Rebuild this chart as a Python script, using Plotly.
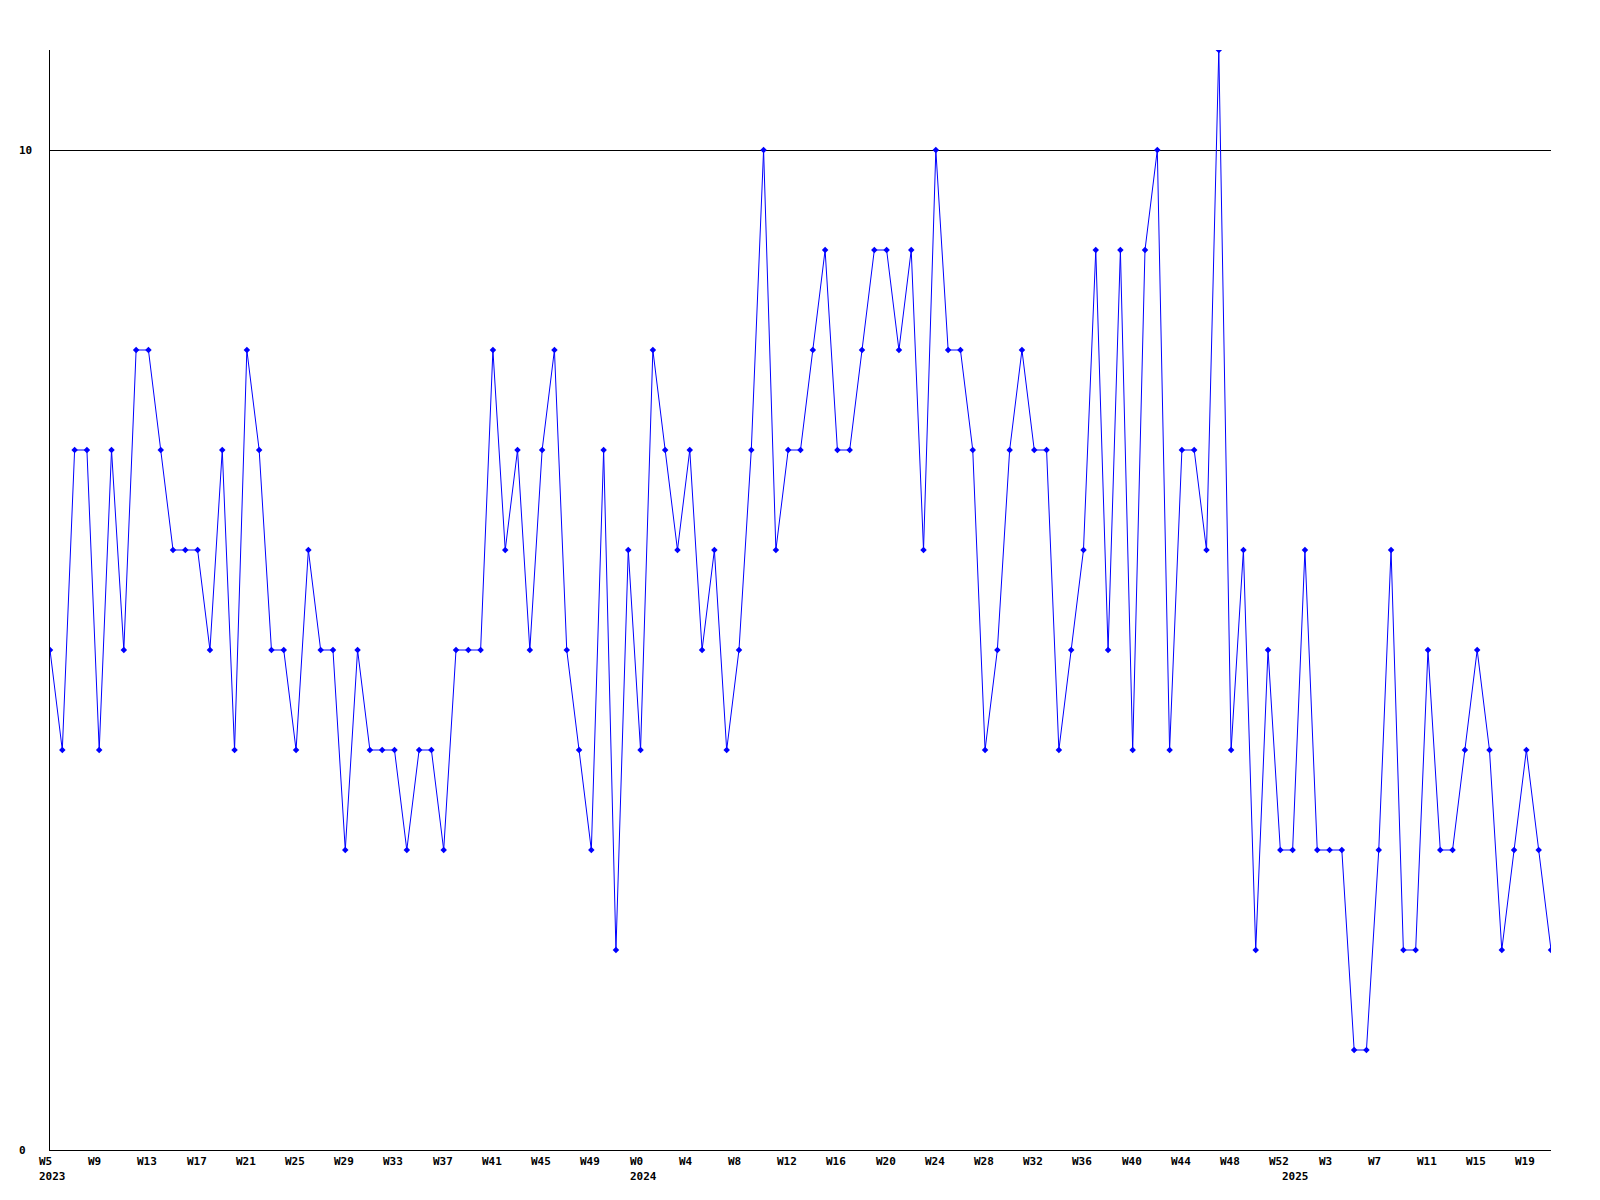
import plotly.graph_objects as go

# Weekly values (one point per week, W5 2023 .. W21 2025)
values = [
    5, 4, 7, 7, 4, 7, 5, 8, 8, 7, 6, 6, 6, 5, 7, 4, 8, 7, 5, 5,
    4, 6, 5, 5, 3, 5, 4, 4, 4, 3, 4, 4, 3, 5, 5, 5, 8, 6, 7, 5,
    7, 8, 5, 4, 3, 7, 2, 6, 4, 8, 7, 6, 7, 5, 6, 4, 5, 7, 10, 6,
    7, 7, 8, 9, 7, 7, 8, 9, 9, 8, 9, 6, 10, 8, 8, 7, 4, 5, 7, 8,
    7, 7, 4, 5, 6, 9, 5, 9, 4, 9, 10, 4, 7, 7, 6, 11, 4, 6, 2, 5,
    3, 3, 6, 3, 3, 3, 1, 1, 3, 6, 2, 2, 5, 3, 3, 4, 5, 4, 2, 3,
    4, 3, 2,
]

# Tick labels shown every 4th week
tick_labels = ["W5", "W9", "W13", "W17", "W21", "W25", "W29", "W33", "W37",
               "W41", "W45", "W49", "W0", "W4", "W8", "W12", "W16", "W20",
               "W24", "W28", "W32", "W36", "W40", "W44", "W48", "W52", "W3",
               "W7", "W11", "W15", "W19"]
tick_step = 4

# Year labels and the week index at which each year begins
year_labels = ["2023", "2024", "2025"]
year_start_idx = [0, 48, 101]

# Y-axis labels
y_labels = [0, 10]

x = list(range(len(values)))

fig = go.Figure()
fig.add_trace(go.Scatter(
    x=x, y=values, mode="lines+markers",
    line=dict(color="#0000FF", width=1),
    marker=dict(symbol="diamond", size=5, color="#0000FF"),
    hoverinfo="skip",
))

font = dict(family="DejaVu Sans Mono", size=11, color="black")
annotations = []
for i, lab in enumerate(tick_labels):
    annotations.append(dict(
        x=i * tick_step, y=0, xref="x", yref="y", text=f"<b>{lab}</b>",
        showarrow=False, xanchor="left", yanchor="top",
        xshift=-13, yshift=-3, font=font,
    ))
for idx, lab in zip(year_start_idx, year_labels):
    annotations.append(dict(
        x=idx, y=0, xref="x", yref="y", text=f"<b>{lab}</b>",
        showarrow=False, xanchor="left", yanchor="top",
        xshift=-13, yshift=-18, font=font,
    ))
for v in y_labels:
    annotations.append(dict(
        x=0, y=v, xref="paper", yref="y", text=f"<b>{v}</b>",
        showarrow=False, xanchor="left", yanchor="middle",
        xshift=-33, font=font,
    ))

fig.update_layout(
    width=1600, height=1200,
    margin=dict(l=42, r=57, t=42, b=58),
    paper_bgcolor="white", plot_bgcolor="white",
    showlegend=False,
    annotations=annotations,
    xaxis=dict(
        range=[0, len(values) - 1], showgrid=False, zeroline=False,
        showline=True, linecolor="black", linewidth=1,
        showticklabels=False, ticks="",
    ),
    yaxis=dict(
        range=[0, 11], tickvals=y_labels, showgrid=True,
        gridcolor="black", gridwidth=1, zeroline=False,
        showline=True, linecolor="black", linewidth=1,
        showticklabels=False, ticks="",
    ),
)

fig.write_html("out.html")
